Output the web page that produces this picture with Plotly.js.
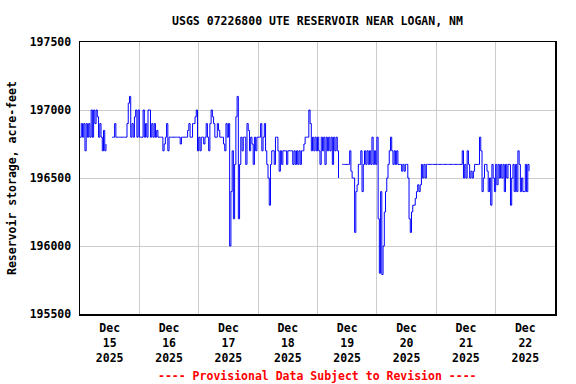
<!DOCTYPE html>
<html>
<head>
<meta charset="utf-8">
<script src="https://cdn.plot.ly/plotly-3.0.1.min.js"></script>
<style>html,body{margin:0;padding:0;background:#fff;}#chart{width:576px;height:384px;}</style>
</head>
<body>
<div id="chart"></div>
<script>
// Reservoir storage (acre-feet), 30-minute readings per day starting 00:00; null = missing
const dec15 = [196800,196900,196800,196900,196700,196900,196800,196900,196800,197000,196800,197000,196900,197000,196950,196800,196900,196800,196700,196850,196700,196750,null,null,null,null,196800,196800,196900,196800,196800,196800,196800,196800,196800,196800,196800,196800,196900,197050,197100,196800,196900,196800,196950,197000,196800,197000];
const dec16 = [196800,196800,196800,197000,196800,196900,196800,197000,197000,196800,196900,196800,196900,196800,196850,196800,196800,196800,196800,196700,196750,196800,196900,196700,196800,196800,196800,196800,196800,196800,196800,196800,196800,196750,196800,196800,196800,196800,196800,196850,196900,196800,196800,196900,196900,196950,197000,196700];
const dec17 = [196800,196700,196800,196800,196750,196800,196900,196800,196700,196900,197000,196950,196900,196800,196800,196900,196850,196800,196800,196800,196750,196700,196900,196800,196900,196000,196400,196700,196200,196600,196950,197100,196200,196600,196800,196700,196800,196800,196600,196900,196850,196700,196800,196750,196600,196800,196700,196800];
const dec18 = [196800,196800,196900,196700,196800,196900,196700,196600,196500,196300,196600,196700,196700,196600,196800,196800,196700,196550,196700,196600,196700,196700,196700,196600,196700,196700,196700,196700,196600,196700,196600,196700,196600,196700,196600,196700,196700,196750,196800,196800,196800,197000,196900,196700,196800,196700,196800,196700];
const dec19 = [196800,196700,196600,196800,196700,196800,196600,196800,196700,196800,196700,196800,196600,196800,196700,196800,196700,196500,null,null,196600,196600,196600,196600,196600,196600,196700,196550,196500,196500,196100,196400,196450,196600,196600,196700,196400,196600,196700,196600,196700,196600,196700,196600,196800,196600,196700,196600];
const dec20 = [196800,196200,195800,196400,195790,196000,196250,196400,196500,196600,196700,196800,196700,196600,196700,196600,196700,196600,196600,196600,196550,196600,196550,196600,196600,196500,196200,196100,196250,196300,196300,196350,196400,196450,196400,196450,196600,196500,196600,196500,196600,196600,196600,196600,196600,196600,196600,196600];
const dec21 = [196600,196600,196600,196600,196600,196600,196600,196600,196600,196600,196600,196600,196600,196600,196600,196600,196600,196600,196600,196600,196600,196700,196500,196600,196500,196700,196600,196500,196550,196500,196550,196600,196600,196600,196600,196800,196700,196400,196500,196600,196600,196550,196400,196500,196300,196600,196500,196400];
const dec22 = [196600,196450,196600,196500,196600,196500,196600,196400,196600,196500,196600,196600,196300,196500,196600,196400,196600,196400,196700,196600,196400,196500,196400,196400,196600,196400,196600,196550];

const days = ['2025-12-15','2025-12-16','2025-12-17','2025-12-18','2025-12-19','2025-12-20','2025-12-21','2025-12-22'];
const dayValues = [dec15, dec16, dec17, dec18, dec19, dec20, dec21, dec22];
const yTicks = [195500, 196000, 196500, 197000, 197500];

const xs = [], ys = [];
const pad = n => (n < 10 ? '0' : '') + n;
dayValues.forEach((arr, d) => {
  arr.forEach((v, k) => {
    const h = Math.floor(k / 2), m = (k % 2) * 30;
    xs.push(days[d] + ' ' + pad(h) + ':' + pad(m));
    ys.push(v);
  });
});

const FONT = 'DejaVu Sans Mono, monospace';
const F = (c) => ({family: FONT, size: 11.5, color: c || '#000', weight: 'bold'});

Plotly.newPlot('chart', [{
  x: xs, y: ys, type: 'scatter', mode: 'lines',
  line: {color: '#0000ff', width: 1, shape: 'hv'},
  connectgaps: false, hoverinfo: 'skip'
}], {
  width: 576, height: 384,
  margin: {l: 80, r: 21, t: 42, b: 70, pad: 0},
  paper_bgcolor: '#ffffff', plot_bgcolor: '#ffffff',
  showlegend: false,
  title: {text: 'USGS 07226800 UTE RESERVOIR NEAR LOGAN, NM', font: F(),
    x: 0.5, xref: 'paper', xanchor: 'center', y: 1 - 21/384, yref: 'container', yanchor: 'middle'},
  xaxis: {
    type: 'date', range: ['2025-12-15 00:00', '2025-12-23 00:00'],
    tick0: '2025-12-15', dtick: 86400000, ticklabelmode: 'period',
    tickformat: '%b<br>%d<br>%Y', tickfont: F(),
    showgrid: true, gridcolor: '#cccccc', gridwidth: 1,
    showline: true, linecolor: '#000', linewidth: 1.5, mirror: true,
    ticks: 'outside', ticklen: 3, tickcolor: 'rgba(0,0,0,0)', zeroline: false, fixedrange: true
  },
  yaxis: {
    range: [195500, 197500], tickvals: yTicks, ticktext: yTicks.map(String), tickfont: F(),
    showgrid: true, gridcolor: '#cccccc', gridwidth: 1,
    showline: true, linecolor: '#000', linewidth: 1.5, mirror: true,
    ticks: 'outside', ticklen: 5, tickcolor: 'rgba(0,0,0,0)', zeroline: false, fixedrange: true
  },
  annotations: [{
    text: 'Reservoir storage, acre-feet', textangle: -90,
    xref: 'paper', yref: 'paper', x: (12 - 80) / 475, y: 0.5, xanchor: 'center', yanchor: 'middle',
    showarrow: false, font: F()
  }, {
    text: '---- Provisional Data Subject to Revision ----',
    xref: 'paper', yref: 'paper', x: 0.5, y: -(375 - 313.5) / 271, xanchor: 'center', yanchor: 'middle',
    showarrow: false, font: F('#ff0000')
  }]
}, {staticPlot: true, displayModeBar: false});
</script>
</body>
</html>
